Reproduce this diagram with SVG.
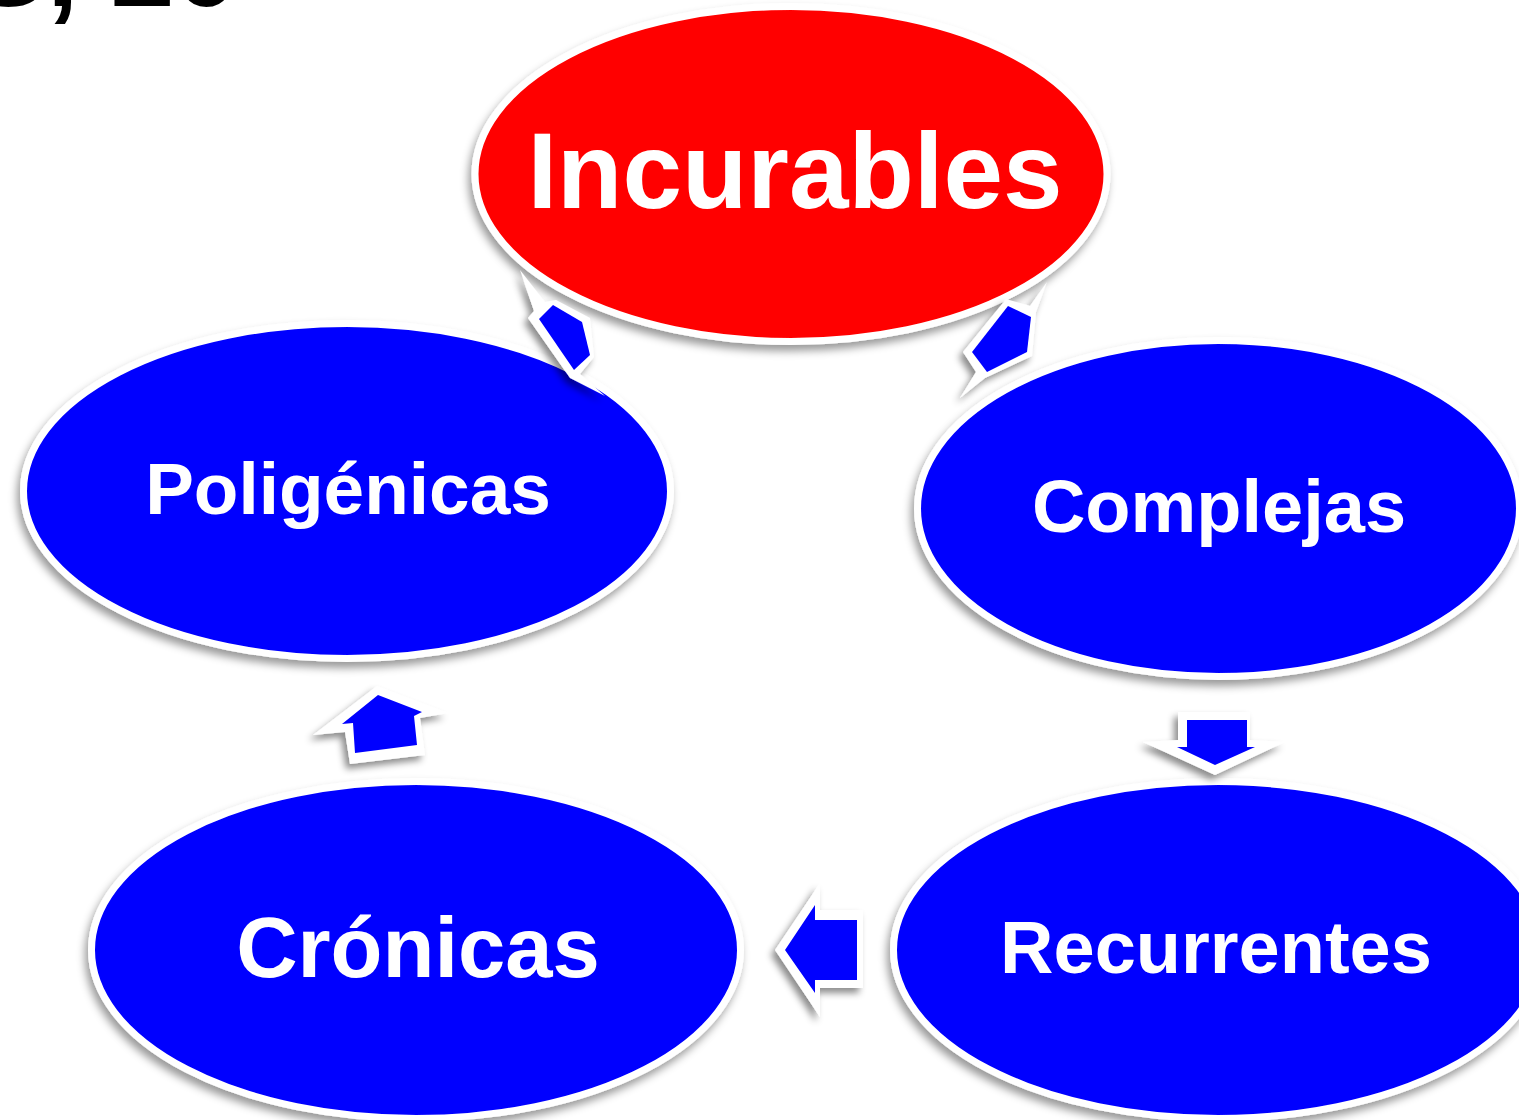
<svg xmlns="http://www.w3.org/2000/svg" width="1519" height="1120" viewBox="0 0 1519 1120">
  <defs>
    <filter id="shadow" x="-10%" y="-10%" width="120%" height="125%">
      <feDropShadow dx="-3" dy="6" stdDeviation="4" flood-color="#000" flood-opacity="0.4"/>
    </filter>
    <filter id="ashadow" x="-40%" y="-40%" width="180%" height="180%">
      <feDropShadow dx="-4" dy="5" stdDeviation="3.5" flood-color="#000" flood-opacity="0.45"/>
    </filter>
  </defs>
  <style>
    .node ellipse { stroke: #FFFFFF; stroke-width: 7; filter: url(#shadow); }
    .red { fill: #FF0000; }
    .blue { fill: #0000FF; }
    .label { font-family: "Liberation Sans", Arial, sans-serif; font-weight: bold; fill: #FFFFFF; text-anchor: middle; }
    .outline { fill: #FFFFFF; filter: url(#ashadow); }
    .head { fill: #0000FF; }
    .title { font-family: "Liberation Sans", Arial, sans-serif; font-weight: bold; fill: #000000; }
  </style>

  <text class="title" x="-30" y="6" font-size="115">S, 20</text>

  <g id="node-incurables" class="node">
    <ellipse class="red" cx="791" cy="174" rx="316" ry="167.5"/>
    <text class="label" x="795" y="208" font-size="107">Incurables</text>
  </g>
  <g id="node-poligenicas" class="node">
    <ellipse class="blue" cx="347" cy="491" rx="323.5" ry="167.5"/>
    <text class="label" x="348" y="514" font-size="73">Poligénicas</text>
  </g>
  <g id="node-complejas" class="node">
    <ellipse class="blue" cx="1218.5" cy="508.5" rx="301" ry="168"/>
    <text class="label" x="1219" y="532" font-size="74">Complejas</text>
  </g>
  <g id="node-cronicas" class="node">
    <ellipse class="blue" cx="416" cy="950" rx="324.5" ry="168.5"/>
    <text class="label" x="418" y="977" font-size="85">Crónicas</text>
  </g>
  <g id="node-recurrentes" class="node">
    <ellipse class="blue" cx="1218" cy="950" rx="324.5" ry="168.5"/>
    <text class="label" x="1216" y="973" font-size="74">Recurrentes</text>
  </g>

  <g id="connectors">
    <g id="arrow-poligenicas-incurables">
      <polygon class="outline" points="520,270 545,302 556,300 590,318 594,357 580,374 605,396 570,378 528,318 534,311"/>
      <polygon class="head" points="553,305 582,322 590,355 574,370 539,319"/>
    </g>
    <g id="arrow-incurables-complejas">
      <polygon class="outline" points="1047,282 1036,312 1032,356 985,378 960,398 976,372 963,352 1006,299 1030,306"/>
      <polygon class="head" points="1008,306 1031,317 1027,352 987,372 972,352"/>
    </g>
    <g id="arrow-complejas-recurrentes">
      <polygon class="outline" points="1178,712 1250,712 1250,740 1285,742 1215,775 1143,742 1178,740"/>
      <polygon class="head" points="1187,720 1247,720 1247,747 1255,747 1215,765 1177,747 1187,747"/>
    </g>
    <g id="arrow-recurrentes-cronicas">
      <polygon class="outline" points="775,950 820,883 820,910 863,910 863,988 820,988 820,1017"/>
      <polygon class="head" points="785,950 815,905 815,920 857,920 857,980 815,980 815,993"/>
    </g>
    <g id="arrow-cronicas-poligenicas">
      <polygon class="outline" points="377,686 448,713 420,718 425,755 350,764 345,732 313,735"/>
      <polygon class="head" points="378,695 422,712 414,716 417,745 355,753 353,723 342,724"/>
    </g>
  </g>
</svg>
